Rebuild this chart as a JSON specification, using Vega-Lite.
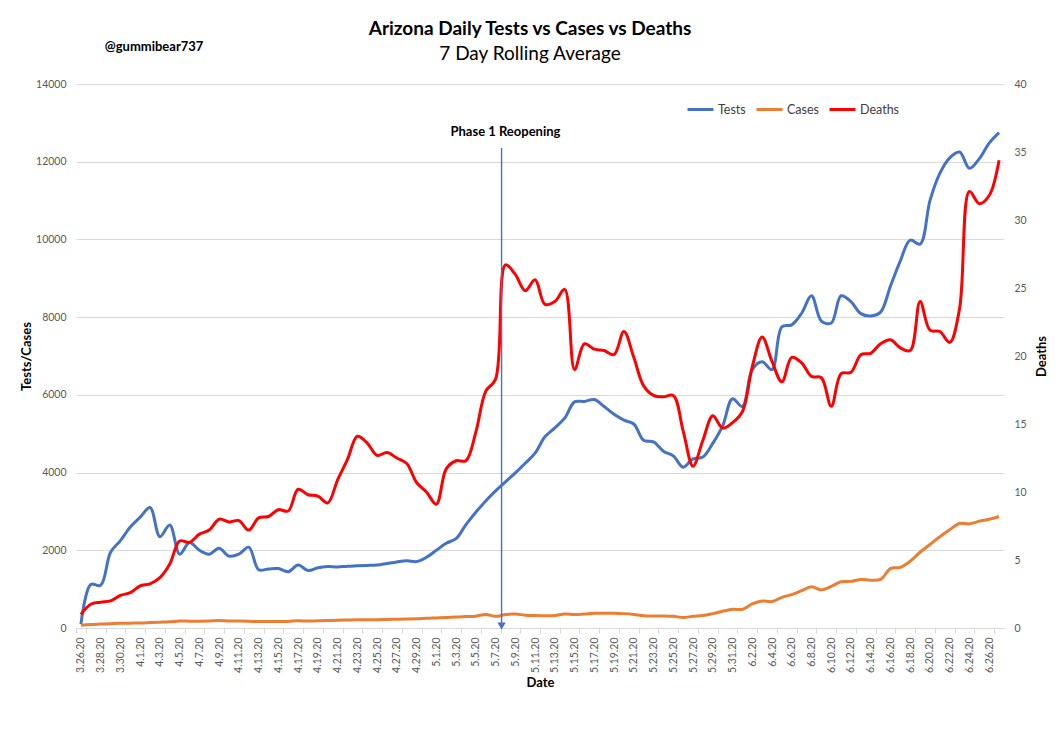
{
  "$schema": "https://vega.github.io/schema/vega-lite/v6.json",
  "width": 928,
  "height": 544,
  "autosize": {"type": "none"},
  "padding": {"left": 76, "top": 84, "right": 55, "bottom": 120},
  "background": "white",
  "config": {"font": "Lato", "view": {"stroke": null}},
  "title": {
    "text": "Arizona Daily Tests vs Cases vs Deaths",
    "subtitle": "7 Day Rolling Average",
    "fontSize": 19,
    "subtitleFontSize": 19,
    "fontWeight": "bold",
    "color": "black",
    "subtitleColor": "black",
    "anchor": "middle",
    "offset": -23,
    "dx": -10,
    "subtitlePadding": 6
  },
  "data": {
    "values": [
      {"d": "3.26.20", "Tests": 100, "Cases": 70, "Deaths": 1.0},
      {"d": "3.27.20", "Tests": 1120, "Cases": 90, "Deaths": 1.75},
      {"d": "3.28.20", "Tests": 1100, "Cases": 100, "Deaths": 1.9},
      {"d": "3.29.20", "Tests": 1950, "Cases": 110, "Deaths": 2.0},
      {"d": "3.30.20", "Tests": 2250, "Cases": 120, "Deaths": 2.4},
      {"d": "3.31.20", "Tests": 2600, "Cases": 125, "Deaths": 2.6},
      {"d": "4.1.20", "Tests": 2850, "Cases": 130, "Deaths": 3.1},
      {"d": "4.2.20", "Tests": 3100, "Cases": 140, "Deaths": 3.25},
      {"d": "4.3.20", "Tests": 2350, "Cases": 150, "Deaths": 3.7},
      {"d": "4.4.20", "Tests": 2650, "Cases": 160, "Deaths": 4.7},
      {"d": "4.5.20", "Tests": 1900, "Cases": 180, "Deaths": 6.4},
      {"d": "4.6.20", "Tests": 2200, "Cases": 175, "Deaths": 6.3},
      {"d": "4.7.20", "Tests": 2000, "Cases": 175, "Deaths": 6.9},
      {"d": "4.8.20", "Tests": 1900, "Cases": 180, "Deaths": 7.2},
      {"d": "4.9.20", "Tests": 2050, "Cases": 190, "Deaths": 8.0},
      {"d": "4.10.20", "Tests": 1850, "Cases": 180, "Deaths": 7.8},
      {"d": "4.11.20", "Tests": 1900, "Cases": 180, "Deaths": 7.9},
      {"d": "4.12.20", "Tests": 2080, "Cases": 175, "Deaths": 7.2},
      {"d": "4.13.20", "Tests": 1500, "Cases": 165, "Deaths": 8.1},
      {"d": "4.14.20", "Tests": 1520, "Cases": 165, "Deaths": 8.2},
      {"d": "4.15.20", "Tests": 1530, "Cases": 165, "Deaths": 8.7},
      {"d": "4.16.20", "Tests": 1450, "Cases": 170, "Deaths": 8.6},
      {"d": "4.17.20", "Tests": 1620, "Cases": 185, "Deaths": 10.2},
      {"d": "4.18.20", "Tests": 1480, "Cases": 180, "Deaths": 9.8},
      {"d": "4.19.20", "Tests": 1550, "Cases": 185, "Deaths": 9.7},
      {"d": "4.20.20", "Tests": 1580, "Cases": 190, "Deaths": 9.2},
      {"d": "4.21.20", "Tests": 1570, "Cases": 200, "Deaths": 10.9},
      {"d": "4.22.20", "Tests": 1590, "Cases": 205, "Deaths": 12.4},
      {"d": "4.23.20", "Tests": 1600, "Cases": 210, "Deaths": 14.1},
      {"d": "4.24.20", "Tests": 1610, "Cases": 210, "Deaths": 13.6},
      {"d": "4.25.20", "Tests": 1620, "Cases": 215, "Deaths": 12.7},
      {"d": "4.26.20", "Tests": 1660, "Cases": 220, "Deaths": 12.9},
      {"d": "4.27.20", "Tests": 1700, "Cases": 225, "Deaths": 12.5},
      {"d": "4.28.20", "Tests": 1730, "Cases": 230, "Deaths": 12.1},
      {"d": "4.29.20", "Tests": 1710, "Cases": 235, "Deaths": 10.7},
      {"d": "4.30.20", "Tests": 1820, "Cases": 250, "Deaths": 10.0},
      {"d": "5.1.20", "Tests": 2000, "Cases": 260, "Deaths": 9.1},
      {"d": "5.2.20", "Tests": 2180, "Cases": 270, "Deaths": 11.7},
      {"d": "5.3.20", "Tests": 2300, "Cases": 285, "Deaths": 12.3},
      {"d": "5.4.20", "Tests": 2660, "Cases": 295, "Deaths": 12.3},
      {"d": "5.5.20", "Tests": 2980, "Cases": 305, "Deaths": 14.4},
      {"d": "5.6.20", "Tests": 3270, "Cases": 350, "Deaths": 17.4},
      {"d": "5.7.20", "Tests": 3530, "Cases": 300, "Deaths": 18.3},
      {"d": "5.8.20", "Tests": 3760, "Cases": 345, "Deaths": 26.7},
      {"d": "5.9.20", "Tests": 3990, "Cases": 360, "Deaths": 26.0},
      {"d": "5.10.20", "Tests": 4240, "Cases": 330, "Deaths": 24.8},
      {"d": "5.11.20", "Tests": 4500, "Cases": 320, "Deaths": 25.6},
      {"d": "5.12.20", "Tests": 4920, "Cases": 315, "Deaths": 23.8},
      {"d": "5.13.20", "Tests": 5150, "Cases": 320, "Deaths": 24.0},
      {"d": "5.14.20", "Tests": 5400, "Cases": 360, "Deaths": 24.9},
      {"d": "5.15.20", "Tests": 5820, "Cases": 345, "Deaths": 19.0},
      {"d": "5.16.20", "Tests": 5830, "Cases": 360, "Deaths": 20.9},
      {"d": "5.17.20", "Tests": 5880, "Cases": 380, "Deaths": 20.5},
      {"d": "5.18.20", "Tests": 5700, "Cases": 380, "Deaths": 20.4},
      {"d": "5.19.20", "Tests": 5500, "Cases": 380, "Deaths": 20.1},
      {"d": "5.20.20", "Tests": 5350, "Cases": 370, "Deaths": 21.8},
      {"d": "5.21.20", "Tests": 5250, "Cases": 350, "Deaths": 19.9},
      {"d": "5.22.20", "Tests": 4830, "Cases": 315, "Deaths": 17.8},
      {"d": "5.23.20", "Tests": 4790, "Cases": 310, "Deaths": 17.1},
      {"d": "5.24.20", "Tests": 4550, "Cases": 310, "Deaths": 17.0},
      {"d": "5.25.20", "Tests": 4430, "Cases": 300, "Deaths": 17.1},
      {"d": "5.26.20", "Tests": 4140, "Cases": 270, "Deaths": 14.5},
      {"d": "5.27.20", "Tests": 4350, "Cases": 300, "Deaths": 11.9},
      {"d": "5.28.20", "Tests": 4400, "Cases": 320, "Deaths": 13.8},
      {"d": "5.29.20", "Tests": 4750, "Cases": 370, "Deaths": 15.6},
      {"d": "5.30.20", "Tests": 5200, "Cases": 430, "Deaths": 14.7},
      {"d": "5.31.20", "Tests": 5900, "Cases": 480, "Deaths": 15.1},
      {"d": "6.1.20", "Tests": 5700, "Cases": 480, "Deaths": 15.9},
      {"d": "6.2.20", "Tests": 6650, "Cases": 620, "Deaths": 19.2},
      {"d": "6.3.20", "Tests": 6850, "Cases": 695, "Deaths": 21.4},
      {"d": "6.4.20", "Tests": 6650, "Cases": 680, "Deaths": 19.6},
      {"d": "6.5.20", "Tests": 7750, "Cases": 790, "Deaths": 18.1},
      {"d": "6.6.20", "Tests": 7800, "Cases": 860, "Deaths": 19.9},
      {"d": "6.7.20", "Tests": 8100, "Cases": 960, "Deaths": 19.5},
      {"d": "6.8.20", "Tests": 8550, "Cases": 1060, "Deaths": 18.5},
      {"d": "6.9.20", "Tests": 7900, "Cases": 980, "Deaths": 18.4},
      {"d": "6.10.20", "Tests": 7850, "Cases": 1070, "Deaths": 16.3},
      {"d": "6.11.20", "Tests": 8550, "Cases": 1190, "Deaths": 18.7},
      {"d": "6.12.20", "Tests": 8400, "Cases": 1200, "Deaths": 18.8},
      {"d": "6.13.20", "Tests": 8090, "Cases": 1250, "Deaths": 20.1},
      {"d": "6.14.20", "Tests": 8030, "Cases": 1230, "Deaths": 20.2},
      {"d": "6.15.20", "Tests": 8130, "Cases": 1250, "Deaths": 20.9},
      {"d": "6.16.20", "Tests": 8800, "Cases": 1530, "Deaths": 21.2},
      {"d": "6.17.20", "Tests": 9450, "Cases": 1560, "Deaths": 20.6},
      {"d": "6.18.20", "Tests": 9980, "Cases": 1720, "Deaths": 20.4},
      {"d": "6.19.20", "Tests": 9880, "Cases": 1950, "Deaths": 24.0},
      {"d": "6.20.20", "Tests": 11000, "Cases": 2150, "Deaths": 21.9},
      {"d": "6.21.20", "Tests": 11700, "Cases": 2350, "Deaths": 21.8},
      {"d": "6.22.20", "Tests": 12100, "Cases": 2530, "Deaths": 21.0},
      {"d": "6.23.20", "Tests": 12250, "Cases": 2690, "Deaths": 23.5},
      {"d": "6.24.20", "Tests": 11830, "Cases": 2680, "Deaths": 32.1},
      {"d": "6.25.20", "Tests": 12080, "Cases": 2750, "Deaths": 31.2},
      {"d": "6.26.20", "Tests": 12480, "Cases": 2800, "Deaths": 31.8},
      {"d": "6.27.20", "Tests": 12750, "Cases": 2870, "Deaths": 34.4}
    ]
  },
  "layer": [
    {
      "transform": [{"fold": ["Tests", "Cases"], "as": ["series", "value"]}],
      "mark": {"type": "line", "interpolate": "catmull-rom", "strokeWidth": 3},
      "encoding": {
        "x": {
          "field": "d",
          "type": "ordinal",
          "sort": null,
          "scale": {
            "type": "band",
            "paddingInner": 0,
            "paddingOuter": 0,
            "domain": ["3.26.20","3.27.20","3.28.20","3.29.20","3.30.20","3.31.20","4.1.20","4.2.20","4.3.20","4.4.20","4.5.20","4.6.20","4.7.20","4.8.20","4.9.20","4.10.20","4.11.20","4.12.20","4.13.20","4.14.20","4.15.20","4.16.20","4.17.20","4.18.20","4.19.20","4.20.20","4.21.20","4.22.20","4.23.20","4.24.20","4.25.20","4.26.20","4.27.20","4.28.20","4.29.20","4.30.20","5.1.20","5.2.20","5.3.20","5.4.20","5.5.20","5.6.20","5.7.20","5.8.20","5.9.20","5.10.20","5.11.20","5.12.20","5.13.20","5.14.20","5.15.20","5.16.20","5.17.20","5.18.20","5.19.20","5.20.20","5.21.20","5.22.20","5.23.20","5.24.20","5.25.20","5.26.20","5.27.20","5.28.20","5.29.20","5.30.20","5.31.20","6.1.20","6.2.20","6.3.20","6.4.20","6.5.20","6.6.20","6.7.20","6.8.20","6.9.20","6.10.20","6.11.20","6.12.20","6.13.20","6.14.20","6.15.20","6.16.20","6.17.20","6.18.20","6.19.20","6.20.20","6.21.20","6.22.20","6.23.20","6.24.20","6.25.20","6.26.20","6.27.20"]
          },
          "axis": {
            "title": "Date",
            "values": ["3.26.20","3.28.20","3.30.20","4.1.20","4.3.20","4.5.20","4.7.20","4.9.20","4.11.20","4.13.20","4.15.20","4.17.20","4.19.20","4.21.20","4.23.20","4.25.20","4.27.20","4.29.20","5.1.20","5.3.20","5.5.20","5.7.20","5.9.20","5.11.20","5.13.20","5.15.20","5.17.20","5.19.20","5.21.20","5.23.20","5.25.20","5.27.20","5.29.20","5.31.20","6.2.20","6.4.20","6.6.20","6.8.20","6.10.20","6.12.20","6.14.20","6.16.20","6.18.20","6.20.20","6.22.20","6.24.20","6.26.20"],
            "labelAngle": -90,
            "labelFontSize": 10.5,
            "labelColor": "#595959",
            "labelPadding": 4,
            "domainColor": "#D9D9D9",
            "tickColor": "#D9D9D9",
            "tickSize": 5,
            "tickBand": "extent",
            "grid": false,
            "titleFontSize": 13,
            "titleFontWeight": "bold",
            "titleColor": "black",
            "titlePadding": 4
          }
        },
        "y": {
          "field": "value",
          "type": "quantitative",
          "scale": {"domain": [0, 14000], "nice": false},
          "axis": {
            "title": "Tests/Cases",
            "format": "d",
            "values": [0, 2000, 4000, 6000, 8000, 10000, 12000, 14000],
            "domain": false,
            "ticks": false,
            "grid": true,
            "gridColor": "#D9D9D9",
            "labelColor": "#595959",
            "labelFontSize": 10.5,
            "labelPadding": 10,
            "titleFontSize": 13,
            "titleFontWeight": "bold",
            "titleColor": "black",
            "titlePadding": 2
          }
        },
        "color": {
          "field": "series",
          "type": "nominal",
          "scale": {"domain": ["Tests", "Cases", "Deaths"], "range": ["#4472C4", "#ED7D31", "#FF0000"]},
          "legend": {
            "title": null,
            "orient": "none",
            "legendX": 610,
            "legendY": 11,
            "direction": "horizontal",
            "symbolType": "stroke",
            "symbolSize": 676,
            "symbolStrokeWidth": 3,
            "labelFontSize": 12.5,
            "labelColor": "#404040",
            "labelOffset": 3,
            "columnPadding": 4
          }
        }
      }
    },
    {
      "mark": {"type": "line", "interpolate": "catmull-rom", "strokeWidth": 3},
      "encoding": {
        "x": {"field": "d", "type": "ordinal", "sort": null},
        "y": {
          "field": "Deaths",
          "type": "quantitative",
          "scale": {"domain": [0, 40], "nice": false},
          "axis": {
            "title": "Deaths",
            "orient": "right",
            "values": [0, 5, 10, 15, 20, 25, 30, 35, 40],
            "domain": false,
            "ticks": false,
            "grid": false,
            "labelColor": "#595959",
            "labelFontSize": 10.5,
            "labelPadding": 10,
            "titleFontSize": 13,
            "titleFontWeight": "bold",
            "titleColor": "black",
            "titleAngle": 270,
            "titleX": 37,
            "titleY": 272,
            "titleAlign": "center",
            "titleBaseline": "middle"
          }
        },
        "color": {"datum": "Deaths"}
      }
    },
    {
      "data": {"values": [{"note": "annotation"}]},
      "layer": [
        {
          "mark": {"type": "rule", "stroke": "#4472C4", "strokeWidth": 1.4, "xOffset": 6},
          "encoding": {
            "x": {"datum": "5.7.20", "type": "ordinal"},
            "y": {"datum": 12350, "type": "quantitative", "scale": {"domain": [0, 14000], "nice": false}, "axis": null},
            "y2": {"datum": 0}
          }
        },
        {
          "mark": {"type": "point", "shape": "triangle-down", "filled": true, "fill": "#4472C4", "strokeWidth": 0, "opacity": 1, "size": 70, "xOffset": 6, "yOffset": -2},
          "encoding": {
            "x": {"datum": "5.7.20", "type": "ordinal"},
            "y": {"datum": 0, "type": "quantitative"}
          }
        },
        {
          "mark": {"type": "text", "text": "Phase 1 Reopening", "fontWeight": "bold", "fontSize": 13, "fill": "black", "align": "center", "baseline": "middle"},
          "encoding": {
            "x": {"datum": "5.8.20", "type": "ordinal"},
            "y": {"datum": 12764, "type": "quantitative"}
          }
        },
        {
          "mark": {"type": "text", "text": "@gummibear737", "fontWeight": "bold", "fontSize": 13, "fill": "black", "align": "center", "baseline": "middle", "xOffset": 4},
          "encoding": {
            "x": {"datum": "4.2.20", "type": "ordinal"},
            "y": {"datum": 14950, "type": "quantitative"}
          }
        }
      ]
    }
  ],
  "resolve": {"scale": {"y": "independent"}}
}
